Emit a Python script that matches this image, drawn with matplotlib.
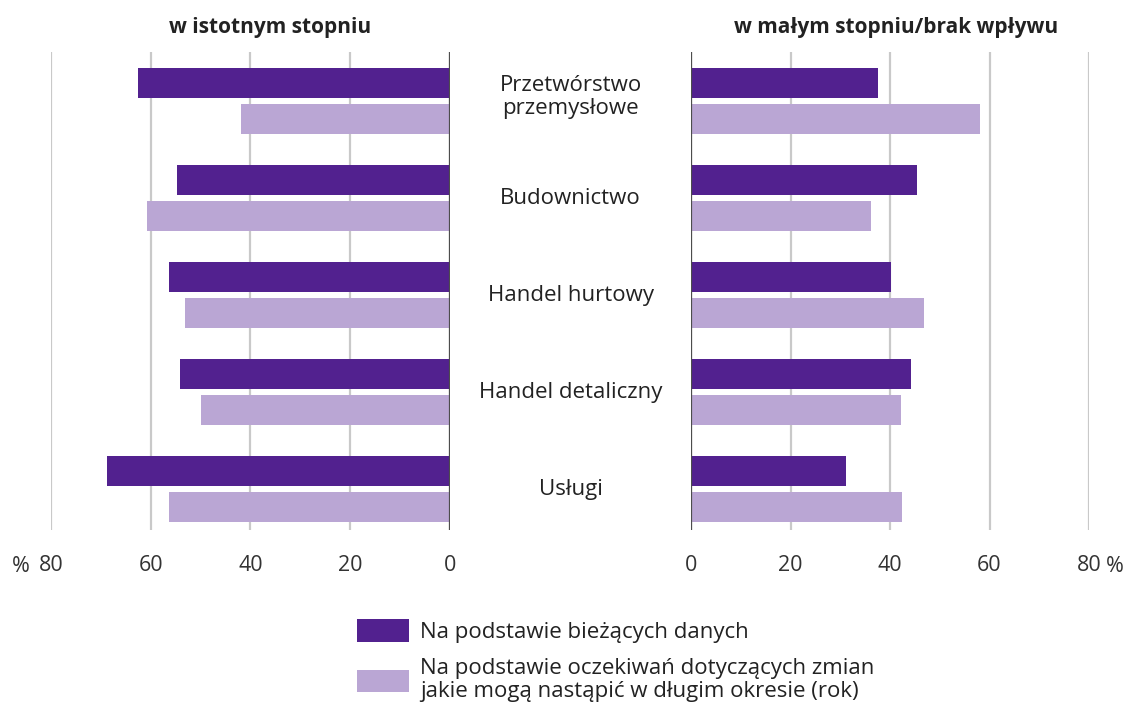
import matplotlib
matplotlib.use("Agg")
import matplotlib.pyplot as plt
import numpy as np

# data (% of firms)
categories = ["Przetwórstwo\nprzemysłowe", "Budownictwo", "Handel hurtowy",
              "Handel detaliczny", "Usługi"]
series_names = ["Na podstawie bieżących danych",
                "Na podstawie oczekiwań dotyczących zmian\njakie mogą nastąpić w długim okresie (rok)"]

# "w istotnym stopniu"
significant_current = [62.5, 54.7, 56.3, 54.1, 68.8]
significant_expected = [41.9, 60.7, 53.1, 49.9, 56.3]

# "w małym stopniu/brak wpływu"
small_current = [37.6, 45.4, 40.2, 44.2, 31.1]
small_expected = [58.0, 36.1, 46.8, 42.2, 42.4]

ticks = [0, 20, 40, 60, 80]
tick_labels = ["0", "20", "40", "60", "80"]

dark = "#52218f"
light = "#baa6d4"
grid_color = "#c9c9c9"
zero_color = "#4d4d4d"
text_color = "#222222"

plt.rcParams['font.family'] = ['Open Sans', 'DejaVu Sans']

W, H = 1131, 709
fig = plt.figure(figsize=(W / 100, H / 100), dpi=100)

ax_l = fig.add_axes([51 / W, (H - 530) / H, 399 / W, 478 / H])
ax_r = fig.add_axes([691 / W, (H - 530) / H, 398 / W, 478 / H])

y = np.arange(len(categories))
bar_h = 0.31
off = 0.186

ax_l.barh(y - off, significant_current, height=bar_h, color=dark, label=series_names[0], zorder=2)
ax_l.barh(y + off, significant_expected, height=bar_h, color=light, label=series_names[1], zorder=2)
ax_r.barh(y - off, small_current, height=bar_h, color=dark, zorder=2)
ax_r.barh(y + off, small_expected, height=bar_h, color=light, zorder=2)

ax_l.set_xlim(80, 0)
ax_r.set_xlim(0, 80)

for ax in (ax_l, ax_r):
    ax.set_ylim(4.42, -0.505)
    ax.set_yticks([])
    ax.set_xticks(ticks)
    ax.set_xticklabels(tick_labels)
    ax.tick_params(axis='x', length=0, pad=18, labelsize=15.5, labelcolor="#333333")
    ax.grid(axis='x', color=grid_color, linewidth=1.6, zorder=0)
    ax.set_axisbelow(True)
    for s in ax.spines.values():
        s.set_visible(False)

# the zero line between the two panels
ax_l.axvline(0, color=zero_color, linewidth=1.6, zorder=3)
ax_r.axvline(0, color=zero_color, linewidth=1.6, zorder=3)

# percent signs next to the 80 labels
fig.text(21 / W, 1 - 567 / H, "%", ha='center', va='center', fontsize=15.5, color="#333333")
fig.text(1115 / W, 1 - 567 / H, "%", ha='center', va='center', fontsize=15.5, color="#333333")

# panel titles
fig.text(270 / W, 1 - 27 / H, "w istotnym stopniu", ha='center', va='center',
         fontsize=15, fontweight='bold', color=text_color)
fig.text(896 / W, 1 - 27 / H, "w małym stopniu/brak wpływu", ha='center', va='center',
         fontsize=15, fontweight='bold', color=text_color)

# category labels in the middle gap
mid_x = (570.5 - 691) / (398 / 80)
for i, cat in enumerate(categories):
    dy = -0.04 if "\n" in cat else 0.0
    ax_r.text(mid_x, i + dy, cat, ha='center', va='center', fontsize=16,
              color=text_color, linespacing=1.1, clip_on=False)

handles, labels = ax_l.get_legend_handles_labels()
leg = fig.legend(handles, labels, loc='upper left', bbox_to_anchor=(357 / W, 1 - 619 / H),
                 frameon=False, fontsize=16, handlelength=2.35, handleheight=1.2,
                 handletextpad=0.5, labelspacing=0.7, borderpad=0, borderaxespad=0,
                 labelcolor=text_color)
for t in leg.get_texts():
    t.set_linespacing(1.12)

fig.savefig("out.png", dpi=100)
